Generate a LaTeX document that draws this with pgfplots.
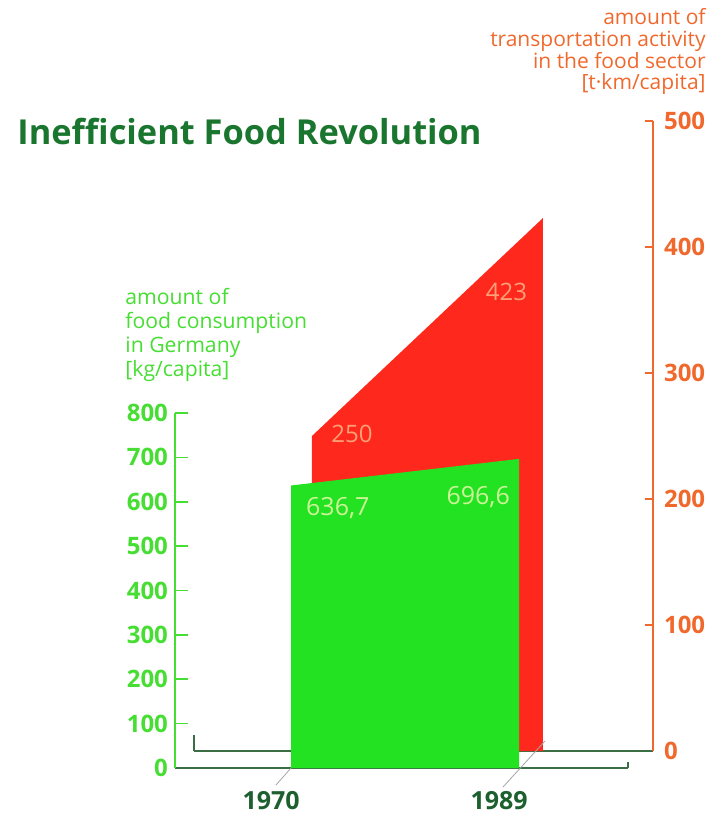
\documentclass[border=0pt]{standalone}
\usepackage{pgfplots}
\pgfplotsset{compat=1.18}
\usepackage{fontspec}
\setmainfont{Open Sans}
\definecolor{areagreen}{RGB}{34,226,34}
\definecolor{areared}{RGB}{255,40,28}
\definecolor{tickgreen}{RGB}{70,222,50}
\definecolor{titlegreen}{RGB}{26,118,46}
\definecolor{yeargreen}{RGB}{28,96,48}
\definecolor{axorange}{RGB}{240,104,44}
\definecolor{baseln}{RGB}{60,110,70}
\definecolor{lblgreen}{RGB}{205,245,150}
\definecolor{lblred}{RGB}{255,160,120}
\begin{document}
\begin{tikzpicture}
\useasboundingbox (0,0) rectangle (357.5pt,-411.5pt);
% transport (back, red)
\begin{axis}[
  at={(97pt,-375.5pt)}, anchor=south west,
  scale only axis, width=229.5pt, height=315pt,
  xmin=1960.3, xmax=1998.05, ymin=0, ymax=500,
  axis x line=bottom, axis y line=right,
  axis line style={-},
  x axis line style={draw=baseln, line width=0.8pt},
  y axis line style={draw=axorange, line width=0.8pt},
  xtick=\empty,
  ytick={0,100,200,300,400,500},
  tick align=inside,
  major tick length=4pt,
  ytick style={draw=axorange, line width=0.8pt},
  /pgf/number format/assume math mode=true,
  yticklabel style={font=\fontsize{12}{14}\selectfont\bfseries, text=axorange, xshift=2pt},
  clip=false,
]
\addplot[fill=areared, draw=none] coordinates {(1970,250) (1989,423)} \closedcycle;
\node[text=lblred, font=\fontsize{12}{14}\selectfont] at (axis cs:1973.3,251.6) {250};
\node[text=lblred, font=\fontsize{12}{14}\selectfont] at (axis cs:1986.0,364) {423};
\draw[baseln, line width=0.8pt] (axis cs:1960.3,0) -- (axis cs:1960.3,13);
\end{axis}
% food (front, green)
\begin{axis}[
  at={(87.5pt,-384pt)}, anchor=south west,
  scale only axis, width=226.5pt, height=177.5pt,
  xmin=1960.33, xmax=1998.08, ymin=0, ymax=800,
  axis x line=bottom, axis y line=left,
  axis line style={-},
  x axis line style={draw=baseln, line width=0.8pt},
  y axis line style={draw=tickgreen, line width=0.8pt},
  xtick={1970,1989}, xticklabels={1970,1989},
  x tick style={draw=none},
  xticklabel style={font=\fontsize{12.5}{14}\selectfont\bfseries, text=yeargreen, xshift=-10pt, yshift=-8pt},
  ytick={0,100,...,800},
  tick align=inside,
  major tick length=6.5pt,
  ytick style={draw=tickgreen, line width=0.8pt},
  /pgf/number format/assume math mode=true,
  yticklabel style={font=\fontsize{12}{14}\selectfont\bfseries, text=tickgreen},
  clip=false,
]
\addplot[fill=areagreen, draw=none] coordinates {(1970,636.7) (1989,696.6)} \closedcycle;
\node[text=lblgreen, font=\fontsize{12.5}{14}\selectfont] at (axis cs:1973.9,585) {636,7};
\node[text=lblgreen, font=\fontsize{12.5}{14}\selectfont] at (axis cs:1985.6,610) {696,6};
\draw[baseln, line width=0.8pt] (axis cs:1998.08,0) -- (axis cs:1998.08,14);
\end{axis}
% depth guide lines
\draw[gray!70, line width=0.4pt] (272.5pt,-370.5pt) -- (251.5pt,-393.5pt);
\draw[gray!70, line width=0.4pt] (145.5pt,-384pt) -- (138pt,-392.5pt);
% titles
\node[anchor=base west, inner sep=0, text=titlegreen, font=\fontsize{17.2}{20}\selectfont\bfseries] at (8.5pt,-72.5pt) {Inefficient Food Revolution};
\node[anchor=north west, inner sep=0, align=left, text=tickgreen, font=\fontsize{10.6}{12}\selectfont] at (62.5pt,-144pt) {amount of\\food consumption\\in Germany\\{[}kg/capita{]}};
\node[anchor=north east, inner sep=0, align=right, text=axorange, font=\fontsize{10.5}{10.9}\selectfont] at (353pt,-4pt) {amount of\\transportation activity\\in the food sector\\{[}t·km/capita{]}};
\end{tikzpicture}
\end{document}
